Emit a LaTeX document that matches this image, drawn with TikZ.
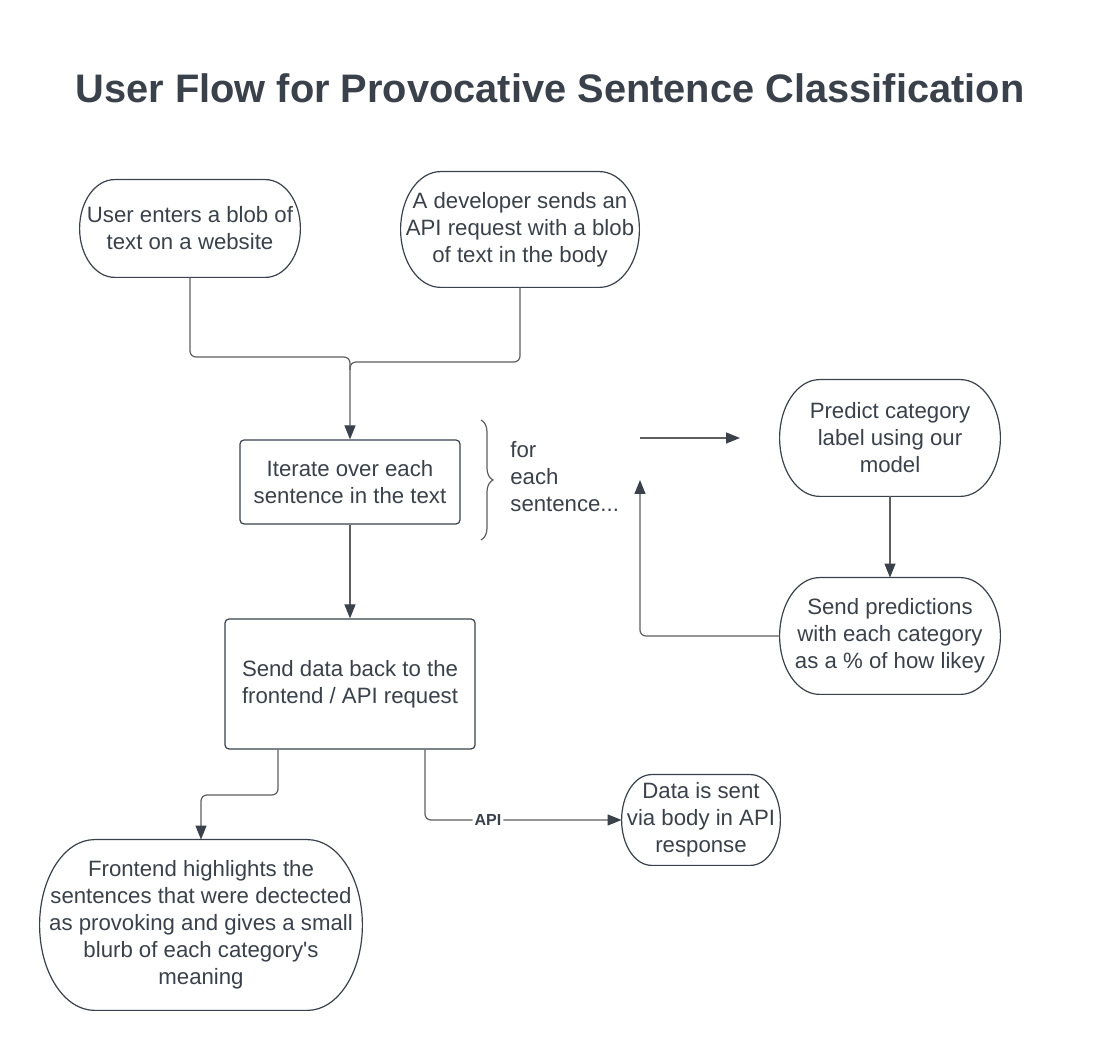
\documentclass[tikz,border=0pt]{standalone}
\usepackage{fontspec}
\setmainfont{Liberation Sans}
\usetikzlibrary{arrows.meta,calc,decorations.pathreplacing}
\definecolor{txt}{HTML}{3A414A}
\definecolor{ln}{HTML}{5E5E5E}
\definecolor{bd}{HTML}{3A414A}
\newcommand\termshape[2]{%
  \draw[shp] let \p1=(#1.north), \p2=(#1.south), \n1={(\y1-\y2)/2} in
    ([xshift=#2]#1.north west) -- ([xshift=-#2]#1.north east)
    arc[start angle=90,end angle=-90,x radius=#2,y radius=\n1]
    -- ([xshift=#2]#1.south west)
    arc[start angle=270,end angle=90,x radius=#2,y radius=\n1] -- cycle;}
\begin{document}
\begin{tikzpicture}[x=0.5pt,y=-0.5pt,
  every node/.style={text=txt,font=\fontsize{11.1pt}{13.5pt}\selectfont},
  box/.style={align=center,inner sep=0pt},
  shp/.style={draw=bd,line width=0.6pt},
  rbox/.style={box,draw=bd,line width=0.6pt,rounded corners=2pt},
  conn/.style={draw=ln,line width=0.6pt,rounded corners=3pt},
  arr/.style={conn,-{Triangle[length=7pt,width=5.5pt,color=bd]}}]
\useasboundingbox[fill=white] (0,0) rectangle (1100,1052);

\node[font=\bfseries\fontsize{19.9pt}{24pt}\selectfont] (title) at (550,88) {User Flow for Provocative Sentence Classification};

% nodes
\node[box,minimum width=110pt,minimum height=48.5pt] (n1) at (190,228.5) {User enters a blob of\\text on a website};
\termshape{n1}{17.5pt}
\node[box,minimum width=119pt,minimum height=57.5pt] (n2) at (520,229.5) {A developer sends an\\API request with a blob\\of text in the body};
\termshape{n2}{20pt}
\node[rbox,minimum width=110pt,minimum height=42pt] (iter) at (350,482) {Iterate over each\\sentence in the text};
\node[box,align=left,anchor=west] (fes) at (510,477) {for\\each\\sentence...};
\node[box,minimum width=110pt,minimum height=58pt] (pred) at (890,438) {Predict category\\label using our\\model};
\termshape{pred}{20pt}
\node[box,minimum width=110pt,minimum height=58pt] (sendp) at (890,636) {Send predictions\\with each category\\as a \% of how likey};
\termshape{sendp}{20pt}
\node[rbox,minimum width=125pt,minimum height=65pt] (send) at (350,684) {Send data back to the\\frontend / API request};
\node[box,minimum width=161pt,minimum height=85pt] (front) at (201,925) {Frontend highlights the\\sentences that were dectected\\as provoking and gives a small\\blurb of each category\textquotesingle s\\meaning};
\termshape{front}{27.5pt}
\node[box,minimum width=79pt,minimum height=45pt] (data) at (701,820) {Data is sent\\via body in API\\response};
\termshape{data}{15pt}

% brace
\coordinate (b1) at (481,420);
\coordinate (b2) at (481,540);
\draw[draw=ln,line width=0.6pt,decorate,decoration={brace,amplitude=6pt}] (b1) -- (b2);

% connectors
\coordinate (j1) at (350,357);
\coordinate (j2) at (350,362);
\draw[conn] (n2.south) |- (j2) -- ++(0,8);
\draw[arr] (n1.south) |- (j1) -- (iter.north);
\draw[arr] (iter.south) -- (send.north);
\draw[arr] (pred.south) -- (sendp.north);
\coordinate (h1) at (640,438);
\coordinate (h2) at (740,438);
\draw[arr] (h1) -- (h2);
\coordinate (u1) at (640,480);
\draw[arr] (sendp.west) -| (u1);
\coordinate (m1) at (278,795);
\draw[arr] (send.south -| m1) -- (m1) -| (front.north);
\coordinate (m2) at (425,820);
\draw[arr] (send.south -| m2) |- (data.west)
  node[pos=0.66,fill=white,inner sep=1pt,font=\bfseries\fontsize{8pt}{9pt}\selectfont] (api) {API};
\end{tikzpicture}
\end{document}
